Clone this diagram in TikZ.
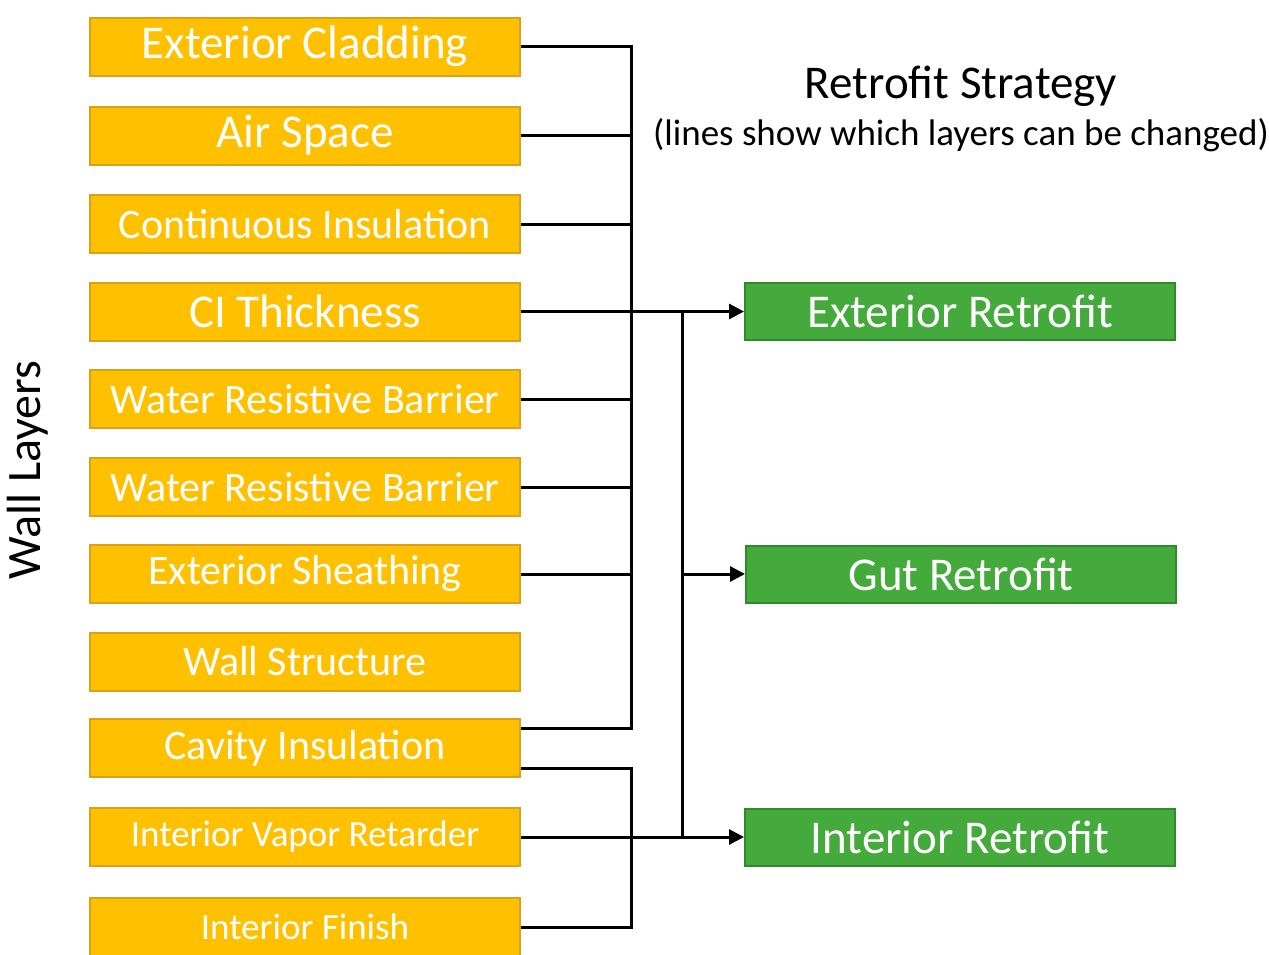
\documentclass[tikz,border=0pt]{standalone}
\usepackage{fontspec}
\setmainfont{Carlito}
\usetikzlibrary{arrows.meta}
\definecolor{layerfill}{HTML}{FFC000}
\definecolor{layerline}{HTML}{DDA01A}
\definecolor{stratfill}{HTML}{43AA3B}
\definecolor{stratline}{HTML}{2E8A2C}
\tikzset{
    layer/.style={draw=layerline, fill=layerfill, line width=2pt, text=white,
        minimum width=430pt, minimum height=58pt, inner sep=0pt,
        font=\fontsize{42}{46}\selectfont},
    large/.style={font=\fontsize{47}{50}\selectfont},
    small/.style={font=\fontsize{37}{40}\selectfont},
    strategy/.style={draw=stratline, fill=stratfill, line width=2pt, text=white,
        minimum width=430pt, minimum height=57pt, inner sep=0pt,
        font=\fontsize{47}{50}\selectfont},
    link/.style={line width=3pt},
    arr/.style={link, -{Triangle[length=15pt,width=15pt]}}
}
\begin{document}
\begin{tikzpicture}[x=1pt, y=-1pt]
    \useasboundingbox (0,0) rectangle (1269,954);

    \path (305,46.5) node [layer,large] (ec) {Exterior Cladding};
    \path (305,135.5) node [layer,large] (as) {Air Space};
    \path (305,224) node [layer] (ci) {Continuous Insulation};
    \path (305,311.5) node [layer,large] (ct) {CI Thickness};
    \path (305,399) node [layer] (wr1) {Water Resistive Barrier};
    \path (305,487) node [layer] (wr2) {Water Resistive Barrier};
    \path (305,574) node [layer] (es) {Exterior Sheathing};
    \path (305,661.5) node [layer] (ws) {Wall Structure};
    \path (305,748) node [layer] (cv) {Cavity Insulation};
    \path (305,837) node [layer,small] (vr) {Interior Vapor Retarder};
    \path (305,927) node [layer,small] (fin) {Interior Finish};

    \path (28,470) node [rotate=90, font=\fontsize{48}{50}\selectfont] (wl) {Wall Layers};

    \path (961,86) node [font=\fontsize{47}{50}\selectfont] (rs) {Retrofit Strategy};
    \path (961,135) node [font=\fontsize{37}{40}\selectfont] (sub) {(lines show which layers can be changed)};

    \path (960,311.5) node [strategy] (ext) {Exterior Retrofit};
    \path (961,574) node [strategy] (gut) {Gut Retrofit};
    \path (960,837) node [strategy] (int) {Interior Retrofit};

    \coordinate (ta) at (631,0);
    \coordinate (tb) at (682,0);

    \draw [link] (ec.east) -| ([yshift=20pt]cv.east -| ta) -- ([yshift=20pt]cv.east);
    \foreach \n in {as,ci,wr1,wr2,es}
        \draw [link] (\n.east) -- (\n.east -| ta);
    \draw [arr] (ct.east) -- (ext.west);
    \draw [link] (ct.east -| tb) -- (vr.east -| tb);
    \draw [arr] (gut.west -| tb) -- (gut.west);
    \draw [arr] (vr.east) -- (int.west);
    \draw [link] ([yshift=-20pt]cv.east) -| (fin.east -| ta) -- (fin.east);
\end{tikzpicture}
\end{document}
